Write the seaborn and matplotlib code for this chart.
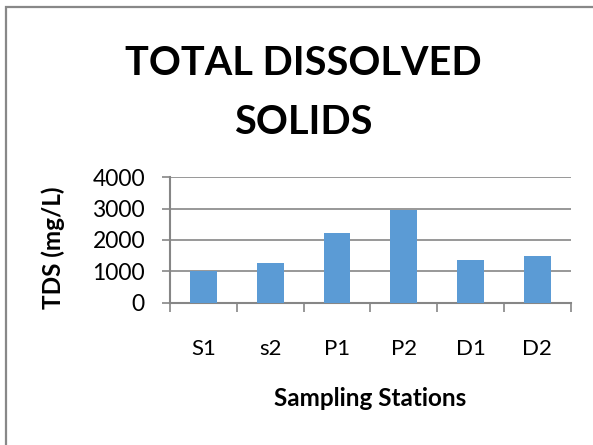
import matplotlib
matplotlib.use("Agg")
import matplotlib.pyplot as plt
from matplotlib.patches import Rectangle
from matplotlib.ticker import FixedLocator
import seaborn as sns
import pandas as pd

stations = ["S1", "s2", "P1", "P2", "D1", "D2"]
tds = [1000, 1280, 2220, 2960, 1360, 1480]
y_ticks = [0, 1000, 2000, 3000, 4000]

sns.set_theme(style="white")
plt.rcParams["font.family"] = ["Lato", "DejaVu Sans"]

GRAY = "#868686"
BLUE = "#5B9BD5"

df = pd.DataFrame({"station": stations, "tds": tds})

fig = plt.figure(figsize=(5.93, 4.45), dpi=100)
ax = fig.add_axes([170 / 593, 1 - 302.7 / 445, 400.7 / 593, 125.4 / 445])

sns.barplot(data=df, x="station", y="tds", color=BLUE, width=0.4,
            saturation=1, linewidth=0, ax=ax, zorder=3)

ax.set_xlim(-0.5, len(stations) - 0.5)
ax.set_ylim(0, 4000)
ax.set_yticks(y_ticks)
ax.set_yticklabels([str(v) for v in y_ticks])

# horizontal gridlines
ax.yaxis.grid(True, color=GRAY, linewidth=1.2, zorder=0)
ax.xaxis.grid(False)
ax.set_axisbelow(True)

for s in ["top", "right"]:
    ax.spines[s].set_visible(False)
for s in ["left", "bottom"]:
    ax.spines[s].set_color(GRAY)
    ax.spines[s].set_linewidth(1.5)

# category boundary ticks below the x axis
ax.xaxis.set_minor_locator(FixedLocator([i - 0.5 for i in range(len(stations) + 1)]))
ax.tick_params(axis="x", which="minor", length=6.5, width=1.2, color=GRAY, direction="out", bottom=True)
ax.tick_params(axis="x", which="major", length=0, pad=26, labelsize=16, labelcolor="black")
ax.tick_params(axis="y", which="major", length=6, width=1.2, color=GRAY, direction="out",
               left=True, pad=12, labelsize=16.5, labelcolor="black")

ax.set_xlabel("Sampling Stations", fontsize=17.5, fontweight="bold", color="black")
ax.set_ylabel("TDS (mg/L)", fontsize=17.5, fontweight="bold", color="black")
ax.xaxis.set_label_coords(0.499, -0.675)
ax.yaxis.set_label_coords(-0.262, 0.44)

fig.text(303 / 593, 1 - 93 / 445, "TOTAL DISSOLVED\nSOLIDS", ha="center", va="center",
         fontsize=28.5, fontweight="bold", color="black", linespacing=1.75)

# chart area border
fig.patches.append(Rectangle((5.5 / 593, -0.1), 1.2, 1.1 - 7.5 / 445,
                             transform=fig.transFigure, fill=False,
                             edgecolor="#888888", linewidth=1.6))

fig.savefig("out.png", dpi=100)
